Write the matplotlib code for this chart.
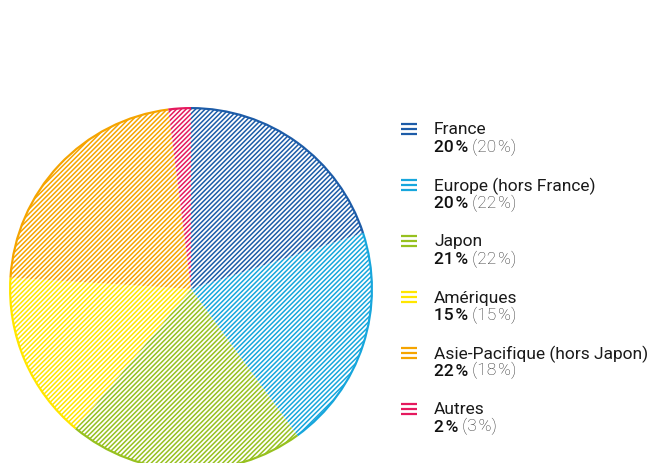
import numpy as np
import matplotlib
matplotlib.use("Agg")
import matplotlib.pyplot as plt
from matplotlib.lines import Line2D

plt.rcParams['font.family'] = ['Roboto', 'DejaVu Sans']
plt.rcParams['hatch.linewidth'] = 1.1

regions = ["France", "Europe (hors France)", "Japon", "Amériques",
           "Asie-Pacifique (hors Japon)", "Autres"]
share_now = [20, 20, 21, 15, 22, 2]
share_prev = [20, 22, 22, 15, 18, 3]
colours = ["#1d5ca8", "#17a6dc", "#97c11f", "#ffe600", "#f5a400", "#e5195e"]

W, H = 653, 464
fig = plt.figure(figsize=(W / 100, H / 100), dpi=100)
ax = fig.add_axes([0, 0, 1, 1])

cx, cy, r = 191, H - 290, 181

# hatched slices (hatch takes the edge colour, so no outline)
wedges, _ = ax.pie(share_now, colors=["none"] * 6, startangle=90,
                   counterclock=False, center=(cx, cy), radius=r,
                   wedgeprops=dict(linewidth=0))
for w, c in zip(wedges, colours):
    w.set_edgecolor(c)
    w.set_hatch("///////")

# solid rim along the outer arc
ax.pie(share_now, colors=colours, startangle=90, counterclock=False,
       center=(cx, cy), radius=r + 1, wedgeprops=dict(width=2.2, linewidth=0))

ax.set_xlim(0, W)
ax.set_ylim(0, H)
ax.set_aspect("equal")
ax.axis("off")

# legend
x_icon, x_txt = 401, 434
y0, step = H - 130, 56
fs = 12.5
for i, (name, a, b, c) in enumerate(zip(regions, share_now, share_prev, colours)):
    y = y0 - i * step
    for dy in (5, 0, -5):
        ax.add_line(Line2D([x_icon, x_icon + 16], [y + dy, y + dy], color=c, lw=1.6,
                           solid_capstyle="butt"))
    ax.text(x_txt, y, name, fontsize=fs, color="#1a1a1a", va="center", ha="left")
    t = ax.text(x_txt, y - 18, f"{a}\u200a%", fontsize=fs, color="#111111",
                fontweight="medium", va="center", ha="left")
    ax.annotate(f" ({b}\u200a%)", xy=(1, 0), xycoords=t, va="bottom", ha="left",
                fontsize=fs, color="#333333", fontweight="light")

fig.savefig("out.png", dpi=100)
